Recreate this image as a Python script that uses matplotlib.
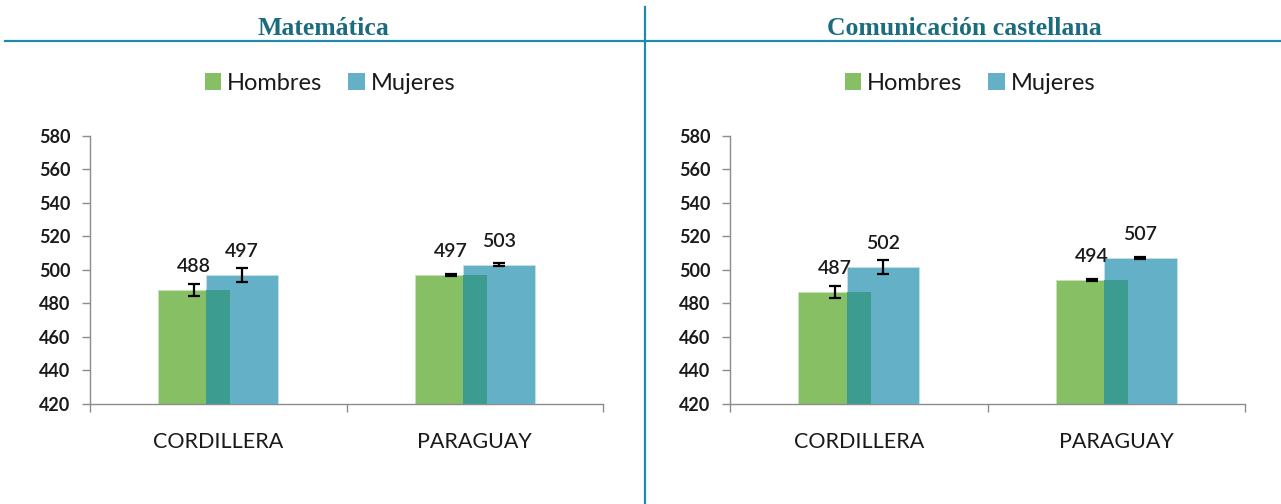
import matplotlib
matplotlib.use("Agg")
import matplotlib.pyplot as plt
import numpy as np
from matplotlib.lines import Line2D
from matplotlib.patches import Patch

# ---- data ----
categories = ["CORDILLERA", "PARAGUAY"]
series_names = ["Hombres", "Mujeres"]
panel_titles = ["Matemática", "Comunicación castellana"]

mat_hombres = [488, 497]
mat_mujeres = [497, 503]
mat_err_hombres = [3.8, 0.8]
mat_err_mujeres = [4.2, 0.9]

com_hombres = [487, 494]
com_mujeres = [502, 507]
com_err_hombres = [3.6, 0.7]
com_err_mujeres = [4.2, 0.7]

yticks = [420, 440, 460, 480, 500, 520, 540, 560, 580]

# ---- styles ----
GREEN = "#86BF64"
BLUE = "#64B0C6"
OVERLAP = "#3C9C90"
TITLE_COLOR = "#1A6C7E"
LINE_COLOR = "#1E8BA6"
AXIS_GRAY = "#8C8C8C"
TEXT = "#1A1A1A"

W, H = 1281, 504
fig = plt.figure(figsize=(W / 100, H / 100), dpi=100)

def fx(px):
    return px / W

def fy(py):
    return 1 - py / H

# separator lines
fig.add_artist(Line2D([fx(5), fx(1281)], [fy(41), fy(41)], color=LINE_COLOR, lw=1.6))
fig.add_artist(Line2D([fx(645), fx(645)], [fy(7), fy(504)], color=LINE_COLOR, lw=1.6))

panels = [
    (panel_titles[0], mat_hombres, mat_mujeres, mat_err_hombres, mat_err_mujeres, 90, 603, 323, 330),
    (panel_titles[1], com_hombres, com_mujeres, com_err_hombres, com_err_mujeres, 730, 1245, 964, 970),
]

bw = 0.281
off = 0.0936

for title, h, m, eh, em, x0, x1, tcx, lcx in panels:
    fig.text(fx(tcx), fy(35), title, ha="center", va="baseline",
             family="Liberation Serif", weight="bold", fontsize=18.5, color=TITLE_COLOR)
    ax = fig.add_axes([fx(x0), fy(404), fx(x1) - fx(x0), fy(136) - fy(404)])
    x = np.arange(len(categories))
    ax.bar(x - off, np.array(h) - 420, bw, bottom=420, color=GREEN, edgecolor="#C8E3B8", lw=0.6, zorder=2)
    ax.bar(x + off, np.array(m) - 420, bw, bottom=420, color=BLUE, edgecolor="#C4E2EA", lw=0.6, zorder=3)
    ov = np.minimum(h, m)
    ax.bar(x + off - bw / 2, ov - 420, (x - off + bw / 2) - (x + off - bw / 2), bottom=420,
           align="edge", color=OVERLAP, lw=0, zorder=4)
    ax.errorbar(x - off, h, yerr=eh, fmt="none", ecolor="black", elinewidth=1.6,
                capsize=4.6, capthick=1.6, zorder=5)
    ax.errorbar(x + off, m, yerr=em, fmt="none", ecolor="black", elinewidth=1.6,
                capsize=4.6, capthick=1.6, zorder=5)
    for xi, v in zip(x - off, h):
        ax.annotate(f"{v}", (xi, v), xytext=(0, 13), textcoords="offset points",
                    ha="center", va="baseline", family="Lato", weight="semibold",
                    fontsize=14, color=TEXT)
    for xi, v in zip(x + off, m):
        ax.annotate(f"{v}", (xi, v), xytext=(0, 13), textcoords="offset points",
                    ha="center", va="baseline", family="Lato", weight="semibold",
                    fontsize=14, color=TEXT)
    ax.set_xlim(-0.5, 1.5)
    ax.set_ylim(420, 580)
    ax.set_yticks(yticks)
    ax.set_yticklabels([str(t) for t in yticks], family="Lato", weight="bold", fontsize=13, color=TEXT)
    ax.set_xticks(x)
    ax.set_xticklabels(categories, family="Lato", fontsize=15.5, color=TEXT)
    ax.set_xticks([-0.5, 0.5, 1.5], minor=True)
    ax.tick_params(axis="x", which="major", length=0, pad=20)
    ax.tick_params(axis="x", which="minor", length=6, color=AXIS_GRAY, width=1)
    ax.tick_params(axis="y", length=6, color=AXIS_GRAY, width=1, pad=8)
    for s in ["top", "right"]:
        ax.spines[s].set_visible(False)
    for s in ["left", "bottom"]:
        ax.spines[s].set_color(AXIS_GRAY)
        ax.spines[s].set_linewidth(1)
    handles = [Patch(facecolor=GREEN, label=series_names[0]), Patch(facecolor=BLUE, label=series_names[1])]
    fig.legend(handles=handles, loc="center", bbox_to_anchor=(fx(lcx), fy(83)), ncol=2,
               frameon=False, prop={"family": "Lato", "size": 17},
               handlelength=0.7, handleheight=0.7, handletextpad=0.25, columnspacing=1.1,
               labelcolor=TEXT)

fig.savefig("out.png", dpi=100)
